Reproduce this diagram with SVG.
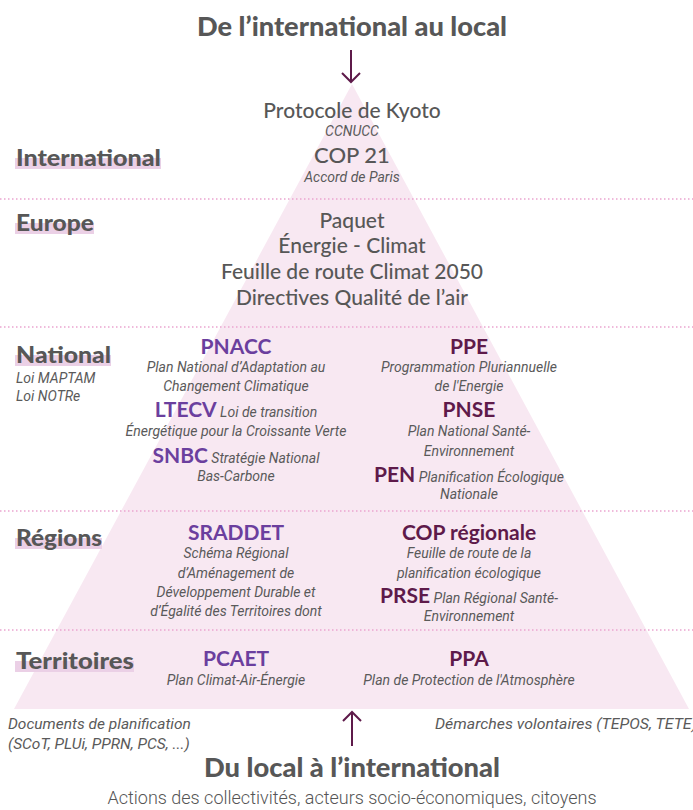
<svg xmlns="http://www.w3.org/2000/svg" width="693" height="810" viewBox="0 0 693 810">
<style>
.h{font-family:Lato,"Noto Sans",sans-serif;font-weight:900;fill:#575757}
.m{font-family:Lato,"Noto Sans",sans-serif;font-weight:500;fill:#575757;text-anchor:middle}
.i{font-family:Roboto,"Liberation Sans",sans-serif;font-style:italic;font-weight:400;fill:#5a5a5a;font-size:14px}
.n{font-size:15.5px}
.c{text-anchor:middle}
.p{font-family:Lato,"Noto Sans",sans-serif;font-weight:700;fill:#6b3f9e;font-size:21px}
.r{font-family:Lato,"Noto Sans",sans-serif;font-weight:700;fill:#5e1a4a;font-size:21px}
.dot{stroke:#eaa4cf;stroke-width:1.5;stroke-dasharray:1.5 2.5;fill:none}
.hl{fill:#ebd0e6}
.arr{stroke:#5e1a4a;stroke-width:2;fill:none}
</style>
<rect width="693" height="810" fill="#ffffff"/>
<polygon points="352,84 14,709 689,709" fill="#f8e8f2"/>
<g id="dividers">
<line class="dot" x1="0" y1="199" x2="693" y2="199"/>
<line class="dot" x1="0" y1="327" x2="693" y2="327"/>
<line class="dot" x1="0" y1="511" x2="693" y2="511"/>
<line class="dot" x1="0" y1="630" x2="693" y2="630"/>
</g>
<g id="connectors">
<path class="arr" d="M351,50 V82 M342,73 L351,82 L360,73"/>
<path class="arr" d="M352,746 V712 M343,721 L352,712 L361,721"/>
</g>
<g id="title-top"><text class="h" x="352" y="36" font-size="26" text-anchor="middle" textLength="310" lengthAdjust="spacingAndGlyphs">De l’international au local</text></g>
<g id="level-international">
<rect class="hl" x="15" y="158" width="146" height="11"/>
<text class="h" x="16" y="166" font-size="22" textLength="145" lengthAdjust="spacingAndGlyphs">International</text>
</g>
<g id="level-europe">
<rect class="hl" x="15" y="223" width="79" height="11"/>
<text class="h" x="16" y="231" font-size="22" textLength="78" lengthAdjust="spacingAndGlyphs">Europe</text>
</g>
<g id="level-national">
<rect class="hl" x="15" y="355" width="96" height="11"/>
<text class="h" x="16" y="363" font-size="22" textLength="95" lengthAdjust="spacingAndGlyphs">National</text>
<text class="i" x="16" y="383">Loi MAPTAM</text>
<text class="i" x="16" y="401">Loi NOTRe</text>
</g>
<g id="level-regions">
<rect class="hl" x="15" y="538" width="87" height="11"/>
<text class="h" x="16" y="546" font-size="22" textLength="86" lengthAdjust="spacingAndGlyphs">Régions</text>
</g>
<g id="level-territoires">
<rect class="hl" x="15" y="661" width="119" height="11"/>
<text class="h" x="16" y="669" font-size="22" textLength="118" lengthAdjust="spacingAndGlyphs">Territoires</text>
</g>
<g id="node-kyoto">
<text class="m" x="352" y="118" font-size="21">Protocole de Kyoto</text>
<text class="i c" x="352" y="136">CCNUCC</text>
<text class="m" x="352" y="163" font-size="22">COP 21</text>
<text class="i c" x="352" y="182">Accord de Paris</text>
</g>
<g id="node-europe">
<text class="m" x="352" y="228" font-size="21">Paquet</text>
<text class="m" x="352" y="253" font-size="21">Énergie - Climat</text>
<text class="m" x="352" y="279" font-size="21">Feuille de route Climat 2050</text>
<text class="m" x="352" y="305" font-size="21">Directives Qualité de l’air</text>
</g>
<g id="node-pnacc">
<text class="p c" x="236" y="354">PNACC</text>
<text class="i c" x="236" y="372">Plan National d’Adaptation au</text>
<text class="i c" x="236" y="391">Changement Climatique</text>
</g>
<g id="node-ltecv">
<text class="c" x="236" y="417"><tspan class="p">LTECV</tspan><tspan class="i"> Loi de transition</tspan></text>
<text class="i c" x="236" y="436">Énergétique pour la Croissante Verte</text>
</g>
<g id="node-snbc">
<text class="c" x="236" y="463"><tspan class="p">SNBC</tspan><tspan class="i"> Stratégie National</tspan></text>
<text class="i c" x="236" y="481">Bas-Carbone</text>
</g>
<g id="node-ppe">
<text class="r c" x="469" y="354">PPE</text>
<text class="i c" x="469" y="372">Programmation Pluriannuelle</text>
<text class="i c" x="469" y="391">de l'Energie</text>
</g>
<g id="node-pnse">
<text class="r c" x="469" y="417">PNSE</text>
<text class="i c" x="469" y="436">Plan National Santé-</text>
<text class="i c" x="469" y="456">Environnement</text>
</g>
<g id="node-pen">
<text class="c" x="469" y="482"><tspan class="r">PEN</tspan><tspan class="i"> Planification Écologique</tspan></text>
<text class="i c" x="469" y="499">Nationale</text>
</g>
<g id="node-sraddet">
<text class="p c" x="236" y="540">SRADDET</text>
<text class="i c" x="236" y="558">Schéma Régional</text>
<text class="i c" x="236" y="578">d’Aménagement de</text>
<text class="i c" x="236" y="597">Développement Durable et</text>
<text class="i c" x="236" y="616">d’Égalité des Territoires dont</text>
</g>
<g id="node-cop-regionale">
<text class="r c" x="469" y="540">COP régionale</text>
<text class="i c" x="469" y="558">Feuille de route de la</text>
<text class="i c" x="469" y="578">planification écologique</text>
</g>
<g id="node-prse">
<text class="c" x="469" y="603"><tspan class="r">PRSE</tspan><tspan class="i"> Plan Régional Santé-</tspan></text>
<text class="i c" x="469" y="621">Environnement</text>
</g>
<g id="node-pcaet">
<text class="p c" x="236" y="666">PCAET</text>
<text class="i c" x="236" y="685">Plan Climat-Air-Énergie</text>
</g>
<g id="node-ppa">
<text class="r c" x="469" y="666">PPA</text>
<text class="i c" x="469" y="685">Plan de Protection de l'Atmosphère</text>
</g>
<g id="note-documents">
<text class="i n" x="8" y="729">Documents de planification</text>
<text class="i n" x="8" y="749">(SCoT, PLUi, PPRN, PCS, ...)</text>
</g>
<g id="note-demarches">
<text class="i n" x="435" y="729" textLength="262" lengthAdjust="spacingAndGlyphs">Démarches volontaires (TEPOS, TETE)</text>
</g>
<g id="title-bottom">
<text class="h" x="352" y="777" font-size="26" text-anchor="middle" textLength="296" lengthAdjust="spacingAndGlyphs">Du local à l’international</text>
<text x="352" y="804" text-anchor="middle" font-family="Roboto,'Liberation Sans',sans-serif" font-weight="300" font-size="18" fill="#555">Actions des collectivités, acteurs socio-économiques, citoyens</text>
</g>
</svg>
